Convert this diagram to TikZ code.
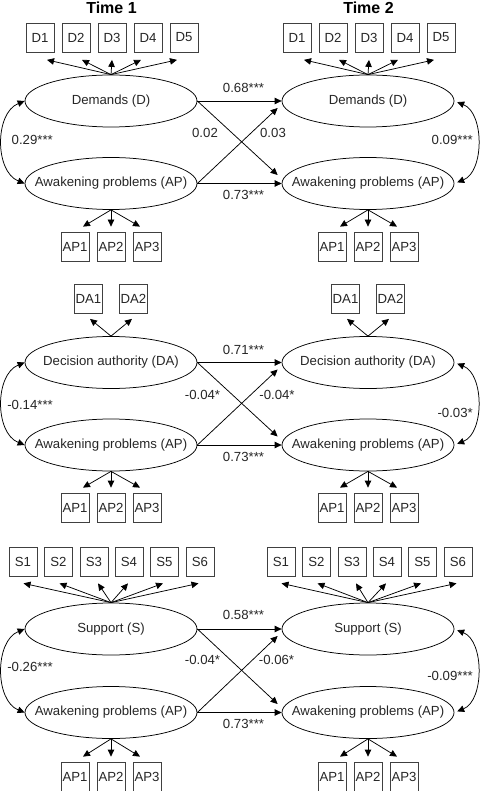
\documentclass[tikz,border=0pt]{standalone}
\usepackage{fontspec}
\setmainfont{Liberation Sans}
\usetikzlibrary{shapes.geometric,arrows.meta,calc}
\newcommand\mylblfont{\fontsize{13.2}{15}\selectfont}
\begin{document}
\begin{tikzpicture}[x=1pt,y=-1pt,
  lat/.style={ellipse,draw,line width=0.75pt,minimum width=172pt,minimum height=52pt,inner xsep=-20pt,inner ysep=0pt,font=\mylblfont,text=black!85},
  ind/.style={rectangle,draw=black!75,line width=0.75pt,minimum width=28pt,minimum height=29pt,inner sep=0pt,font=\mylblfont,text=black!85},
  lbl/.style={inner sep=0pt,font=\mylblfont,text=black!85},
  ttl/.style={inner sep=0pt,font=\bfseries\fontsize{16}{18}\selectfont},
  arr/.style={-{Triangle[length=7pt,width=6.5pt]},line width=0.75pt},
  darr/.style={{Triangle[length=7pt,width=6.5pt]}-{Triangle[length=7pt,width=6.5pt]},line width=0.75pt}
]
\useasboundingbox (0,0) rectangle (481,791);

\node[ttl] (time1) at (111.5,8) {Time 1};
\node[ttl] (time2) at (368.5,8) {Time 2};

% ---------------- Panel 1 ----------------
\node[lat] (pD1) at (111,101) {Demands (D)};
\node[lat] (pA1) at (111,183.5) {Awakening problems (AP)};
\node[lat] (pD2) at (368,101) {Demands (D)};
\node[lat] (pA2) at (368,183.5) {Awakening problems (AP)};

\foreach \i/\x/\dx in {1/40/7,2/76/6,3/112/0,4/148/-7,5/184/-7}{
  \node[ind] (dL\i) at (\x,37.5) {D\i};
  \draw[arr] (pD1.north) -- ($(dL\i.south)+(\dx,7.5)$);
  \node[ind] (dR\i) at (\x+257,37.5) {D\i};
  \draw[arr] (pD2.north) -- ($(dR\i.south)+(\dx,7.5)$);
}
\foreach \i/\x/\dx in {1/75/8,2/111/0,3/147/-7}{
  \node[ind] (aL\i) at (\x,246.5) {AP\i};
  \draw[arr] (pA1.south) -- ($(aL\i.north)+(\dx,-5)$);
  \node[ind] (aR\i) at (\x+257,246.5) {AP\i};
  \draw[arr] (pA2.south) -- ($(aR\i.north)+(\dx,-5)$);
}
\draw[arr] (pD1.east) -- (pD2.west);
\draw[arr] (pA1.east) -- (pA2.west);
\draw[arr] (pD1.east) -- ($(pA2.west)+(-4,-8.5)$);
\draw[arr] (pA1.east) -- ($(pD2.west)+(-4,7)$);
\draw[darr] (pD1.west) .. controls +(-30,12) and +(-30,-12) .. (pA1.west);
\draw[darr,shorten <=3pt,shorten >=3pt] (pD2.east) .. controls +(30,12) and +(30,-12) .. (pA2.east);
\node[lbl] (l1a) at (243.5,88) {0.68***};
\node[lbl] (l1b) at (243.5,195) {0.73***};
\node[lbl] (l1c) at (205,133) {0.02};
\node[lbl] (l1d) at (273,133) {0.03};
\node[lbl,anchor=east] (l1e) at (53,140) {0.29***};
\node[lbl,anchor=east] (l1f) at (473,140) {0.09***};

% ---------------- Panel 2 ----------------
\node[lat] (qD1) at (111,362.5) {Decision authority (DA)};
\node[lat] (qA1) at (111,445) {Awakening problems (AP)};
\node[lat] (qD2) at (368,362.5) {Decision authority (DA)};
\node[lat] (qA2) at (368,445) {Awakening problems (AP)};

\foreach \i/\x/\dx in {1/88.5/1.5,2/133.5/-1.5}{
  \node[ind] (eL\i) at (\x,299) {DA\i};
  \draw[arr] (qD1.north) -- ($(eL\i.south)+(\dx,5)$);
  \node[ind] (eR\i) at (\x+257,299) {DA\i};
  \draw[arr] (qD2.north) -- ($(eR\i.south)+(\dx,5)$);
}
\foreach \i/\x/\dx in {1/75/8,2/111/0,3/147/-7}{
  \node[ind] (bL\i) at (\x,507.5) {AP\i};
  \draw[arr] (qA1.south) -- ($(bL\i.north)+(\dx,-5)$);
  \node[ind] (bR\i) at (\x+257,507.5) {AP\i};
  \draw[arr] (qA2.south) -- ($(bR\i.north)+(\dx,-5)$);
}
\draw[arr] (qD1.east) -- (qD2.west);
\draw[arr] (qA1.east) -- (qA2.west);
\draw[arr] (qD1.east) -- ($(qA2.west)+(-4,-8.5)$);
\draw[arr] (qA1.east) -- ($(qD2.west)+(-4,7)$);
\draw[darr] (qD1.west) .. controls +(-30,12) and +(-30,-12) .. (qA1.west);
\draw[darr,shorten <=3pt,shorten >=3pt] (qD2.east) .. controls +(30,12) and +(30,-12) .. (qA2.east);
\node[lbl] (l2a) at (243.5,349.5) {0.71***};
\node[lbl] (l2b) at (243.5,456.5) {0.73***};
\node[lbl] (l2c) at (202.5,395) {-0.04*};
\node[lbl] (l2d) at (277,395) {-0.04*};
\node[lbl,anchor=east] (l2e) at (53,405) {-0.14***};
\node[lbl,anchor=east] (l2f) at (473,413) {-0.03*};

% ---------------- Panel 3 ----------------
\node[lat] (rS1) at (111,629) {Support (S)};
\node[lat] (rA1) at (111,712.5) {Awakening problems (AP)};
\node[lat] (rS2) at (368,629) {Support (S)};
\node[lat] (rA2) at (368,712.5) {Awakening problems (AP)};

\foreach \i/\x/\dx in {1/23/0.5,2/58.5/1,3/94/4,4/129/-1,5/164.5/-1.5,6/200/-1.5}{
  \node[ind] (sL\i) at (\x,562) {S\i};
  \draw[arr] (rS1.north) -- ($(sL\i.south)+(\dx,6.5)$);
  \node[ind] (sR\i) at (\x+258,562) {S\i};
  \draw[arr] (rS2.north) -- ($(sR\i.south)+(\dx,6.5)$);
}
\foreach \i/\x/\dx in {1/75/8,2/111/0,3/147/-7}{
  \node[ind] (cL\i) at (\x,776.5) {AP\i};
  \draw[arr] (rA1.south) -- ($(cL\i.north)+(\dx,-5)$);
  \node[ind] (cR\i) at (\x+257,776.5) {AP\i};
  \draw[arr] (rA2.south) -- ($(cR\i.north)+(\dx,-5)$);
}
\draw[arr] (rS1.east) -- (rS2.west);
\draw[arr] (rA1.east) -- (rA2.west);
\draw[arr] (rS1.east) -- ($(rA2.west)+(-4,-8.5)$);
\draw[arr] (rA1.east) -- ($(rS2.west)+(-4,7)$);
\draw[darr] (rS1.west) .. controls +(-30,12) and +(-30,-12) .. (rA1.west);
\draw[darr,shorten <=3pt,shorten >=3pt] (rS2.east) .. controls +(30,12) and +(30,-12) .. (rA2.east);
\node[lbl] (l3a) at (243.5,615) {0.58***};
\node[lbl] (l3b) at (243.5,723.5) {0.73***};
\node[lbl] (l3c) at (202.5,660) {-0.04*};
\node[lbl] (l3d) at (276.5,660) {-0.06*};
\node[lbl,anchor=east] (l3e) at (53,667) {-0.26***};
\node[lbl,anchor=east] (l3f) at (473,676) {-0.09***};
\end{tikzpicture}
\end{document}
